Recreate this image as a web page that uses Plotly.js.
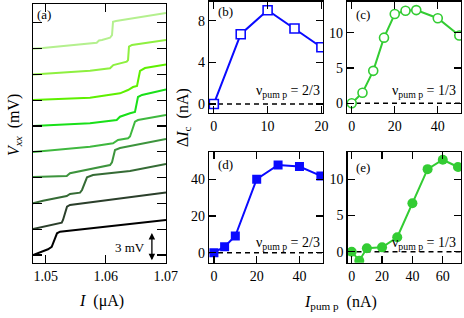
<!DOCTYPE html>
<html><head><meta charset="utf-8">
<script src="https://cdn.plot.ly/plotly-3.0.1.min.js"></script>
<style>html,body{margin:0;padding:0;background:#fff}#plot{width:464px;height:318px}</style>
</head><body><div id="plot"></div>
<script>
// ---- Panel (a): V_xx (mV, offset) vs I (uA) ----
const a0x = [1.04788, 1.05038, 1.0510, 1.05122, 1.05188, 1.05238, 1.07005];
const a0y = [0.00, 0.60, 0.84, 1.26, 2.27, 2.44, 3.66];
const a1x = [1.04788, 1.04955, 1.05267, 1.05288, 1.05355, 1.05405, 1.07005];
const a1y = [2.72, 2.96, 3.38, 3.66, 5.05, 5.23, 6.54];
const a2x = [1.04788, 1.04955, 1.0535, 1.05405, 1.05572, 1.05605, 1.05688, 1.05788, 1.06405, 1.07005];
const a2y = [5.41, 5.68, 6.17, 6.38, 6.52, 6.80, 8.13, 8.37, 8.79, 9.52];
const a3x = [1.04788, 1.0535, 1.05405, 1.0585, 1.06072, 1.06105, 1.06155, 1.06238, 1.07005];
const a3y = [8.16, 8.26, 8.55, 9.13, 9.41, 9.70, 10.98, 11.19, 12.13];
const a4x = [1.04788, 1.05738, 1.06122, 1.06205, 1.06372, 1.06405, 1.06488, 1.06538, 1.07005];
const a4y = [10.77, 11.33, 11.68, 12.03, 12.21, 12.40, 13.94, 14.12, 14.64];
const a5x = [1.04788, 1.05738, 1.06183, 1.06238, 1.06405, 1.06488, 1.06538, 1.06605, 1.07005];
const a5y = [13.49, 13.78, 14.12, 14.47, 14.82, 14.96, 16.53, 16.74, 17.31];
const a6x = [1.04788, 1.05738, 1.06238, 1.06372, 1.06455, 1.06522, 1.06572, 1.06655, 1.07005];
const a6y = [16.21, 16.45, 16.91, 17.26, 17.57, 17.68, 19.25, 19.56, 19.93];
const a7x = [1.04788, 1.05738, 1.06072, 1.06127, 1.0635, 1.06372, 1.06388, 1.06438, 1.07005];
const a7y = [18.89, 19.28, 19.53, 19.87, 20.22, 20.40, 21.79, 21.97, 22.49];
const a8x = [1.04788, 1.04955, 1.0585, 1.05888, 1.05938, 1.06072, 1.06105, 1.06122, 1.06172, 1.07005];
const a8y = [21.59, 21.65, 22.21, 22.44, 22.49, 22.73, 23.00, 24.40, 24.48, 25.31];
const aTicksX = [1.05, 1.06, 1.07];
const aTickText = ['1.05', '1.06', '1.07'];

// ---- Panel (b): nu_pump = 2/3 ----
const bX = [0, 5, 10, 15, 20];
const bY = [0, 6.7, 9.0, 7.25, 5.45];
// ---- Panel (c): nu_pump = 1/3 ----
const cX = [0, 5, 10, 15, 20, 25, 30, 40, 50];
const cY = [0, 1.5, 4.6, 9.3, 12.65, 13.1, 13.2, 12.05, 9.6];
// ---- Panel (d): nu_pump = 2/3 ----
const dX = [0, 5, 10, 20, 30, 40, 50];
const dY = [0, 3.3, 9.1, 40, 47.8, 46.9, 41.8];
// ---- Panel (e): nu_pump = 1/3 ----
const eX = [0, 5, 10, 20, 30, 40, 50, 60, 70];
const eY = [0, -1.24, 0.47, 0.6, 2.0, 6.7, 11.4, 12.7, 11.7];

const curveColors = ['#000000', '#2b3f2b', '#356b35', '#3d943d', '#3fb83f', '#19e019', '#5ef000', '#8ef040', '#b4f08e'];
const FONT = 'Liberation Serif';
const W = 464, H = 318;
const px = v => v / W, py = v => 1 - v / H;

const aCurves = [[a0x,a0y],[a1x,a1y],[a2x,a2y],[a3x,a3y],[a4x,a4y],[a5x,a5y],[a6x,a6y],[a7x,a7y],[a8x,a8y]];
const traces = aCurves.map((c, i) => ({
  x: c[0], y: c[1], xaxis: 'x', yaxis: 'y', mode: 'lines', type: 'scatter',
  line: {color: curveColors[i], width: 2}, hoverinfo: 'skip'
}));
const BLUE = '#0a0aff', GREEN = '#33cc33';
traces.push({x: bX, y: bY, xaxis: 'x2', yaxis: 'y2', mode: 'lines+markers', type: 'scatter',
  line: {color: BLUE, width: 2}, marker: {symbol: 'square', size: 9, color: '#fff', line: {color: BLUE, width: 1.6}}});
traces.push({x: cX, y: cY, xaxis: 'x3', yaxis: 'y3', mode: 'lines+markers', type: 'scatter',
  line: {color: GREEN, width: 2}, marker: {symbol: 'circle', size: 9, color: '#fff', line: {color: GREEN, width: 1.6}}});
traces.push({x: dX, y: dY, xaxis: 'x4', yaxis: 'y4', mode: 'lines+markers', type: 'scatter',
  line: {color: BLUE, width: 2}, marker: {symbol: 'square', size: 9, color: BLUE}});
traces.push({x: eX, y: eY, xaxis: 'x5', yaxis: 'y5', mode: 'lines+markers', type: 'scatter',
  line: {color: GREEN, width: 2}, marker: {symbol: 'circle', size: 10, color: GREEN}});

function ax(domain, range, extra) {
  return Object.assign({
    domain: domain, range: range, showline: true, linecolor: '#000', linewidth: 1.2,
    mirror: 'ticks', ticks: 'inside', ticklen: 7, tickwidth: 1.2, tickcolor: '#000',
    showgrid: false, zeroline: false, fixedrange: true,
    tickfont: {family: FONT, size: 14, color: '#000'}
  }, extra || {});
}
const aYt = [0, 2.7, 5.4, 8.1, 10.8, 13.5, 16.2, 18.9, 21.6, 24.3];

const layout = {
  width: W, height: H, margin: {l: 0, r: 0, t: 0, b: 0}, showlegend: false,
  paper_bgcolor: '#fff', plot_bgcolor: '#fff',
  font: {family: FONT, color: '#000'},
  xaxis: ax([px(33), px(166)], [1.04788, 1.07005], {anchor: 'y', tickvals: aTicksX, ticktext: aTickText, ticklen: 8}),
  yaxis: ax([py(263), py(4)], [-0.84, 26.26], {anchor: 'x', tickvals: aYt, showticklabels: false, ticklen: 9}),
  xaxis2: ax([px(209), px(323)], [-0.9, 20.3], {anchor: 'y2', tickvals: [0, 10, 20]}),
  yaxis2: ax([py(112.7), py(1.5)], [-0.84, 9.84], {anchor: 'x2', tickvals: [0, 4, 8]}),
  xaxis3: ax([px(347), px(461)], [-2.2, 50.8], {anchor: 'y3', tickvals: [0, 20, 40]}),
  yaxis3: ax([py(112.7), py(1.5)], [-1.33, 14.42], {anchor: 'x3', tickvals: [0, 5, 10]}),
  xaxis4: ax([px(209), px(323)], [-2.3, 51], {anchor: 'y4', tickvals: [0, 20, 40]}),
  yaxis4: ax([py(262.7), py(151.7)], [-5.45, 55.0], {anchor: 'x4', tickvals: [0, 20, 40]}),
  xaxis5: ax([px(347.5), px(461)], [-2.76, 72.0], {anchor: 'y5', tickvals: [0, 20, 40, 60]}),
  yaxis5: ax([py(262.7), py(151.7)], [-1.52, 13.81], {anchor: 'x5', tickvals: [0, 5, 10]}),
  shapes: ['2', '3', '4', '5'].map(n => ({
    type: 'line', xref: 'x' + n + ' domain', yref: 'y' + n, x0: 0, x1: 1, y0: 0, y1: 0,
    line: {color: '#000', width: 1.4, dash: '5px,4px'}, layer: 'below'
  })),
  annotations: []
};
const ann = layout.annotations;
function txt(t, x, y, opts) {
  ann.push(Object.assign({text: t, x: px(x), y: py(y), xref: 'paper', yref: 'paper', showarrow: false,
    font: {family: FONT, size: 14, color: '#000'}, xanchor: 'center', yanchor: 'middle'}, opts || {}));
}
txt('(a)', 35, 15, {xanchor: 'left', font: {family: FONT, size: 13, color: '#000'}});
txt('(b)', 216, 12, {xanchor: 'left', font: {family: FONT, size: 13, color: '#000'}});
txt('(c)', 354, 15, {xanchor: 'left', font: {family: FONT, size: 13, color: '#000'}});
txt('(d)', 216, 164, {xanchor: 'left', font: {family: FONT, size: 13, color: '#000'}});
txt('(e)', 354, 167, {xanchor: 'left', font: {family: FONT, size: 13, color: '#000'}});
txt('ν<sub>pum p</sub> = 2/3', 322, 92, {xanchor: 'right'});
txt('ν<sub>pum p</sub> = 1/3', 458, 92, {xanchor: 'right'});
txt('ν<sub>pum p</sub> = 2/3', 322, 243, {xanchor: 'right'});
txt('ν<sub>pum p</sub> = 1/3', 458, 243, {xanchor: 'right'});
txt('<i>V</i><sub><i>xx</i></sub>  (mV)', 14, 125, {textangle: -90, font: {family: FONT, size: 16, color: '#000'}});
txt('<i>I</i>  (μA)', 101, 301, {font: {family: FONT, size: 16, color: '#000'}});
txt('Δ<i>I</i><sub>c</sub>  (nA)', 184, 118, {textangle: -90, font: {family: FONT, size: 16, color: '#000'}});
txt('<i>I</i><sub>pum p</sub>  (nA)', 340, 302, {font: {family: FONT, size: 16, color: '#000'}});
txt('3 mV', 147, 247, {xanchor: 'right', font: {family: FONT, size: 13, color: '#000'}});
ann.push({x: 1.0677, y: 2.3, ax: 1.0677, ay: -0.72, xref: 'x', yref: 'y', axref: 'x', ayref: 'y',
  text: '', showarrow: true, arrowside: 'end+start', arrowhead: 2, arrowsize: 1, arrowwidth: 1.3, arrowcolor: '#000'});

Plotly.newPlot('plot', traces, layout, {staticPlot: true, displayModeBar: false});
</script></body></html>
